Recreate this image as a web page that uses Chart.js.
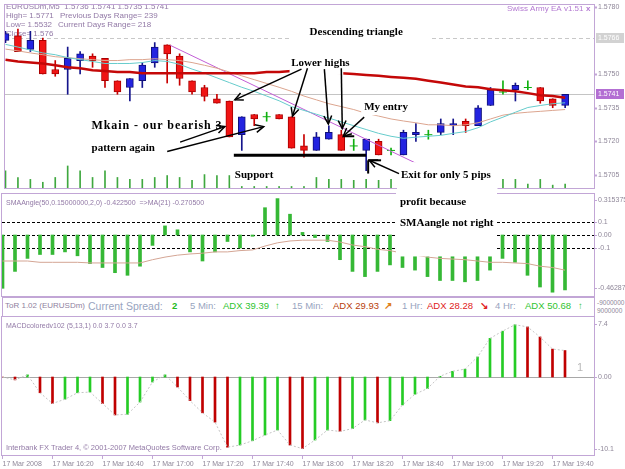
<!DOCTYPE html>
<html>
<head>
<meta charset="utf-8">
<title>EURUSDm,M5</title>
<script src="https://cdn.jsdelivr.net/npm/chart.js@4.4.0/dist/chart.umd.min.js"></script>
<style>
  body { margin: 0; background: #fff; }
  #wrap { position: relative; width: 625px; height: 469px; overflow: hidden; background: #fff; font-family: Arial, "Liberation Sans", sans-serif; }
  #wrap canvas { position: absolute; left: 0; }
  #tor { position: absolute; left: 2px; top: 297px; width: 591px; height: 18px; border: 1px solid #c2a6d6; border-bottom: none; }
  #tor span, .side { position: absolute; white-space: nowrap; line-height: 16px; top: 0; font-size: 9.5px; color: #98a4c0; }
  .side { font-size: 6.5px; line-height: 7px; color: #8f8799; left: 597px; }
</style>
</head>
<body>
<div id="wrap">
  <canvas id="main" width="625" height="193" style="top:0"></canvas>
  <canvas id="sma" width="625" height="104" style="top:193px"></canvas>
  <div id="tor">
    <span style="left:2px;font-size:8px;color:#8f7fa0">ToR 1.02 (EURUSDm)</span>
    <span style="left:85px;font-size:10.5px">Current Spread:</span>
    <span style="left:169px;color:#22bb22;font-weight:bold">2</span>
    <span style="left:187px">5 Min:</span>
    <span style="left:220px;color:#2fc42f">ADX 39.39</span>
    <span style="left:272px;color:#2fc42f;font-weight:bold">&#8593;</span>
    <span style="left:289px">15 Min:</span>
    <span style="left:330px;color:#b8400c">ADX 29.93</span>
    <span style="left:381px;color:#e08020;font-weight:bold">&#8599;</span>
    <span style="left:399px">1 Hr:</span>
    <span style="left:424px;color:#e02020">ADX 28.28</span>
    <span style="left:477px;color:#e02020;font-weight:bold">&#8600;</span>
    <span style="left:492px">4 Hr:</span>
    <span style="left:522px;color:#2fc42f">ADX 50.68</span>
    <span style="left:575px;color:#2fc42f;font-weight:bold">&#8593;</span>
  </div>
  <span class="side" style="top:299px">-9000000</span>
  <span class="side" style="top:307px">9000000</span>
  <canvas id="macd" width="625" height="154" style="top:315px"></canvas>
</div>
<script>
// time axis (bar index -> label), one bar = 5 minutes
var timeLabels = ['17 Mar 2008', '17 Mar 16:20', '17 Mar 16:40', '17 Mar 17:00', '17 Mar 17:20', '17 Mar 17:40',
  '17 Mar 18:00', '17 Mar 18:20', '17 Mar 18:40', '17 Mar 19:00', '17 Mar 19:20', '17 Mar 19:40'];
var timeLabelBars = [0, 4, 8, 12, 16, 20, 24, 28, 32, 36, 40, 44];

// EURUSDm M5 candles
var opens = [1.5765, 1.5767, 1.5761, 1.5765, 1.5752, 1.5752, 1.5756, 1.5758, 1.5757, 1.5747, 1.5744, 1.5747,
  1.5755, 1.5763, 1.5758, 1.5747, 1.5744, 1.5739, 1.5738, 1.5723, 1.5732, 1.5731, 1.5732, 1.5731,
  1.5718, 1.5716, 1.5721, 1.5723, 1.5718, 1.5716, 1.5720, 1.5716, 1.5714, 1.5723, 1.5723, 1.5724,
  1.5727, 1.5729, 1.5727, 1.5736, 1.5742, 1.5743, 1.5744, 1.5744, 1.5739, 1.5736];
var highs = [1.5769, 1.5770, 1.5769, 1.5766, 1.5756, 1.5762, 1.5760, 1.5759, 1.5757, 1.5747, 1.5748, 1.5755,
  1.5764, 1.5763, 1.5759, 1.5747, 1.5745, 1.5741, 1.5738, 1.5731, 1.5732, 1.5733, 1.5732, 1.5731,
  1.5723, 1.5724, 1.5727, 1.5725, 1.5721, 1.5721, 1.5721, 1.5717, 1.5725, 1.5728, 1.5725, 1.5730,
  1.5730, 1.5730, 1.5736, 1.5744, 1.5747, 1.5746, 1.5747, 1.5744, 1.5739, 1.5741];
var lows = [1.5764, 1.5760, 1.5760, 1.5750, 1.5749, 1.5741, 1.5750, 1.5753, 1.5744, 1.5741, 1.5738, 1.5744,
  1.5753, 1.5746, 1.5745, 1.5741, 1.5738, 1.5737, 1.5722, 1.5716, 1.5727, 1.5729, 1.5730, 1.5717,
  1.5713, 1.5716, 1.5721, 1.5716, 1.5716, 1.5707, 1.5714, 1.5714, 1.5714, 1.5720, 1.5721, 1.5723,
  1.5723, 1.5724, 1.5727, 1.5736, 1.5741, 1.5738, 1.5743, 1.5737, 1.5735, 1.5735];
var closes = [1.5768, 1.5760, 1.5765, 1.5750, 1.5750, 1.5757, 1.5759, 1.5756, 1.5747, 1.5742, 1.5748, 1.5754,
  1.5762, 1.5759, 1.5748, 1.5742, 1.5740, 1.5737, 1.5722, 1.5731, 1.5730, 1.5731, 1.5730, 1.5717,
  1.5716, 1.5722, 1.5724, 1.5716, 1.5718, 1.5721, 1.5714, 1.5716, 1.5724, 1.5724, 1.5723, 1.5728,
  1.5728, 1.5727, 1.5735, 1.5743, 1.5742, 1.5745, 1.5744, 1.5738, 1.5736, 1.5741];
var volumes = [180, 110, 90, 60, 110, 230, 180, 110, 180, 110, 90, 90, 110, 130, 110, 80, 140, 130,
  130, 150, 120, 110, 100, 120, 100, 110, 90, 90, 80, 90, 80, 90, 120, 100, 90, 90, 80, 90,
  100, 110, 90, 90, 40, 90, 30, 40];

// moving averages on price
var maSlow = [1.57564, 1.57556, 1.57551, 1.57547, 1.57539, 1.5753, 1.57526, 1.57517, 1.57513, 1.57509, 1.57509,
  1.57504, 1.57504, 1.57504, 1.57504, 1.57504, 1.57504, 1.57504, 1.57504, 1.57504, 1.57504, 1.57509, 1.57509,
  1.57513, 1.57513, 1.57513, 1.57509, 1.57504, 1.575, 1.57496, 1.57492, 1.57487, 1.57483, 1.57479, 1.5747,
  1.57462, 1.57453, 1.57445, 1.57441, 1.57432, 1.57428, 1.57423, 1.57415, 1.57406, 1.57402, 1.57394];
var maMid = [1.57611, 1.57603, 1.57594, 1.57586, 1.57577, 1.57573, 1.57568, 1.57564, 1.5756, 1.5756, 1.57564,
  1.57564, 1.57568, 1.57564, 1.5756, 1.57551, 1.57539, 1.57526, 1.57509, 1.57492, 1.57475, 1.57458, 1.57441,
  1.57423, 1.57402, 1.57385, 1.57368, 1.57355, 1.57342, 1.57325, 1.57313, 1.573, 1.57291, 1.57283, 1.57274,
  1.57274, 1.5727, 1.57274, 1.57283, 1.573, 1.57317, 1.57325, 1.5733, 1.57334, 1.57338, 1.57342];
var maFast = [1.57632, 1.5762, 1.57607, 1.57594, 1.57586, 1.57573, 1.57564, 1.57556, 1.57547, 1.57547, 1.57547,
  1.57551, 1.5756, 1.57556, 1.57543, 1.57522, 1.57504, 1.57483, 1.57462, 1.57441, 1.57423, 1.57402, 1.57381,
  1.57355, 1.57338, 1.57321, 1.57304, 1.57287, 1.5727, 1.57253, 1.57236, 1.57223, 1.57214, 1.57219, 1.57223,
  1.57227, 1.57236, 1.57244, 1.57261, 1.57287, 1.57308, 1.5733, 1.57351, 1.5736, 1.57368, 1.57372];

// drawn objects
var trendBars = [13.24, 33.16];
var trendPrices = [1.57628, 1.57099];
var bidPrice = 1.5741;
var dayHighPrice = 1.5766;
var priceTicks = [1.5780, 1.5750, 1.5735, 1.5720, 1.5705];
var priceTickLabels = ['1.5780', '1.5750', '1.5735', '1.5720', '1.5705'];

// SMAAngle window
var smaAngle = [-0.41, -0.28, -0.18, -0.15, -0.15, -0.13, -0.16, -0.22, -0.25, -0.29, -0.31, -0.24, -0.08,
  0.07, 0.04, -0.13, -0.2, -0.13, -0.05, -0.1, -0.01, 0.21, 0.28, 0.16, 0.02, -0.02, -0.05, -0.19, -0.28,
  -0.32, -0.28, -0.23, -0.25, -0.27, -0.32, -0.35, -0.35, -0.36, -0.35, -0.27, -0.18, -0.21, -0.31, -0.4,
  -0.44, -0.4225];
var smaAngleMA = [-0.2, -0.2, -0.2, -0.21, -0.21, -0.21, -0.21, -0.215, -0.215, -0.215, -0.215, -0.215, -0.19,
  -0.17, -0.155, -0.146, -0.14, -0.13, -0.13, -0.12, -0.115, -0.085, -0.06, -0.046, -0.04, -0.04, -0.04,
  -0.054, -0.077, -0.09, -0.11, -0.12, -0.14, -0.154, -0.17, -0.18, -0.185, -0.19, -0.2, -0.21, -0.21,
  -0.215, -0.22, -0.24, -0.25, -0.2705];
var smaLevels = [0.1, 0, -0.1];
var smaTicks = [0.315375, 0.1, 0, -0.1, -0.46287];
var smaTickLabels = ['0.315375', '0.1', '0.00', '-0.1', '-0.46287'];

// MACDcoloredv102 window
var macd = [0.0, -0.4, 0.3, -2.2, -3.7, -3.1, -2.2, -2.1, -3.7, -5.3, -5.2, -3.5, -0.7, 0.3, -1.4, -3.3,
  -5.0, -6.3, -9.8, -9.5, -8.9, -8.1, -7.4, -9.5, -10.0, -8.8, -7.4, -7.6, -7.2, -6.0, -6.4, -6.1, -3.9,
  -2.4, -1.6, 0.1, 0.8, 1.1, 2.8, 5.4, 6.4, 7.3, 7.0, 5.6, 3.9, 3.7];
var macdTicks = [7.4, 0, -10.1];
var macdTickLabels = ['7.4', '0.00', '-10.1'];

// hand drawn notes: [bar1, bar2, top, bottom] boxes, [bar1, val1, bar2, val2, arrowhead, width] lines,
// [text, bar, val, align, font size, letter spacing] texts
var mainNoteBoxes = [[23.0, 34.2, 1.57735, 1.57624], [22.84, 27.16, 1.57581, 1.57496], [28.6, 32.6, 1.57385, 1.57317],
  [18.1, 24.44, 1.57108, 1.57001], [31.48, 39.56, 1.57108, 1.5695]];
var mainNoteLines = [
  [23.8, 1.57522, 18.44, 1.57385, true, 1.5], [24.28, 1.57526, 23.08, 1.57313, true, 1.5],
  [25.64, 1.57522, 25.96, 1.57278, true, 1.5], [27.0, 1.57526, 27.08, 1.57257, true, 1.5],
  [28.84, 1.57308, 27.16, 1.57223, true, 1.5], [14.04, 1.57197, 17.64, 1.57266, true, 1.5],
  [13.0, 1.57155, 20.76, 1.57266, true, 1.5], [31.64, 1.57057, 29.24, 1.57116, true, 1.5],
  [18.36, 1.57138, 29.0, 1.57138, false, 3], [27.16, 1.57223, 28.04, 1.57223, false, 2],
  [29.16, 1.57116, 29.16, 1.57057, false, 2], [29.16, 1.57116, 30.2, 1.57116, false, 2]];
var mainNoteTexts = [['Descending triangle', 28.2, 1.57688, 'center', 11, 0], ['Lower highs', 25.32, 1.57547, 'center', 11, 0],
  ['My entry', 30.6, 1.57351, 'center', 11, 0], ['Mkain - our bearish 3', 6.92, 1.5727, 'left', 12, 0.9],
  ['pattern again', 6.92, 1.57172, 'left', 11, 0], ['Support', 18.44, 1.57048, 'left', 11, 0],
  ['Exit for only 5 pips', 31.8, 1.57052, 'left', 11, 0]];
var smaNoteBoxes = [[31.48, 39.56, 0.4, -0.165]];
var smaNoteTexts = [['profit because', 31.8, 0.254, 'left', 11, 0], ['SMAangle not right', 31.8, 0.092, 'left', 11, 0]];

var FRAME = '#c2a6d6';
var AXIS_TXT = '#8f8799';
var LABEL_TXT = '#9279a6';
var SMALL_FONT = '7px Arial, "Liberation Sans", sans-serif';
var NOTE_FAMILY = '"Liberation Serif", "Times New Roman", serif';
var X_MIN = -0.04, X_MAX = 47.32;

var bars = opens.map(function(v, i) { return i; });

function kind(i) {
  return closes[i] > opens[i] ? 'up' : (closes[i] < opens[i] ? 'down' : 'flat');
}

function px(chart, bar, val) {
  return { x: chart.scales.x.getPixelForValue(bar), y: chart.scales.y.getPixelForValue(val) };
}

function drawArrow(ctx, x1, y1, x2, y2, head) {
  ctx.beginPath(); ctx.moveTo(x1, y1); ctx.lineTo(x2, y2); ctx.stroke();
  if (!head) return;
  var ang = Math.atan2(y2 - y1, x2 - x1), len = 9;
  ctx.beginPath();
  ctx.moveTo(x2 - len * Math.cos(ang - 0.45), y2 - len * Math.sin(ang - 0.45));
  ctx.lineTo(x2, y2);
  ctx.lineTo(x2 - len * Math.cos(ang + 0.45), y2 - len * Math.sin(ang + 0.45));
  ctx.stroke();
}

function drawNotes(chart, ctx, boxes, lines, texts) {
  ctx.fillStyle = '#fff';
  boxes.forEach(function(b) {
    var p1 = px(chart, b[0], b[2]), p2 = px(chart, b[1], b[3]);
    ctx.fillRect(p1.x, p1.y, p2.x - p1.x, p2.y - p1.y);
  });
  ctx.strokeStyle = '#000';
  lines.forEach(function(l) {
    var p1 = px(chart, l[0], l[1]), p2 = px(chart, l[2], l[3]);
    ctx.lineWidth = l[5];
    drawArrow(ctx, p1.x, p1.y, p2.x, p2.y, l[4]);
  });
  ctx.fillStyle = '#000'; ctx.textBaseline = 'middle';
  texts.forEach(function(t) {
    var p = px(chart, t[1], t[2]);
    ctx.font = 'bold ' + t[4] + 'px ' + NOTE_FAMILY;
    ctx.letterSpacing = t[5] + 'px';
    ctx.textAlign = t[3];
    ctx.fillText(t[0], p.x, p.y);
  });
  ctx.letterSpacing = '0px';
}

function hLine(chart, ctx, val, color, dash) {
  var a = chart.chartArea, y = Math.round(chart.scales.y.getPixelForValue(val)) + 0.5;
  ctx.strokeStyle = color; ctx.lineWidth = 1; ctx.setLineDash(dash || []);
  ctx.beginPath(); ctx.moveTo(a.left, y); ctx.lineTo(a.right, y); ctx.stroke();
  ctx.setLineDash([]);
}

function priceBox(chart, ctx, val, text, bg) {
  var a = chart.chartArea, y = Math.round(chart.scales.y.getPixelForValue(val));
  ctx.fillStyle = bg; ctx.fillRect(a.right + 2, y - 5, 28, 10);
  ctx.font = SMALL_FONT; ctx.textBaseline = 'middle'; ctx.textAlign = 'left';
  ctx.fillStyle = '#fff'; ctx.fillText(text, a.right + 4, y);
}

// frame, right-hand scale labels and per-panel extras
function panelPlugin(ticks, tickLabels, padTop, padBottom, under, over) {
  return {
    id: 'panel',
    beforeDatasetsDraw: function(chart) {
      var ctx = chart.ctx;
      ctx.save();
      if (under) under(chart, ctx);
      ctx.restore();
    },
    afterDatasetsDraw: function(chart) {
      var ctx = chart.ctx, a = chart.chartArea, y = chart.scales.y;
      ctx.save();
      ctx.strokeStyle = FRAME; ctx.lineWidth = 1;
      ctx.strokeRect(Math.round(a.left) - 0.5, Math.round(a.top) - 0.5,
        Math.round(a.right - a.left) + 1, Math.round(a.bottom - a.top) + 1);
      if (over) over(chart, ctx);
      ctx.font = SMALL_FONT; ctx.textBaseline = 'middle'; ctx.textAlign = 'left';
      ticks.forEach(function(v, k) {
        var py = Math.round(Math.min(Math.max(y.getPixelForValue(v), a.top + padTop), a.bottom - padBottom));
        ctx.strokeStyle = FRAME;
        ctx.beginPath(); ctx.moveTo(a.right, py + 0.5); ctx.lineTo(a.right + 3, py + 0.5); ctx.stroke();
        ctx.fillStyle = AXIS_TXT;
        ctx.fillText(tickLabels[k], a.right + 4, py);
      });
      ctx.restore();
    }
  };
}

var baseOptions = function(padding, scales) {
  return {
    responsive: false,
    animation: false,
    events: [],
    layout: { padding: padding },
    plugins: { legend: { display: false }, tooltip: { enabled: false } },
    scales: scales
  };
};

// ---- price window ----
var last = opens.length - 1;
new Chart(document.getElementById('main'), {
  type: 'line',
  data: {
    datasets: [
      { type: 'line', data: bars.map(function(i) { return { x: i, y: maSlow[i] }; }),
        borderColor: '#c40808', borderWidth: 2.5, pointRadius: 0, order: 1 },
      { type: 'line', data: bars.map(function(i) { return { x: i, y: maFast[i] }; }),
        borderColor: '#66cccc', borderWidth: 1, pointRadius: 0, order: 2 },
      { type: 'line', data: bars.map(function(i) { return { x: i, y: maMid[i] }; }),
        borderColor: '#dca58f', borderWidth: 1, pointRadius: 0, order: 3 },
      { type: 'line', data: trendBars.map(function(b, k) { return { x: b, y: trendPrices[k] }; }),
        borderColor: '#c25ed6', borderWidth: 1, pointRadius: 0, order: 4 },
      { type: 'scatter', data: bars.filter(function(i) { return kind(i) === 'flat'; }).map(function(i) { return { x: i, y: closes[i] }; }),
        pointStyle: 'line', pointRadius: 4, borderColor: '#10b010', borderWidth: 1, order: 5 },
      { type: 'bar', grouped: false, barThickness: 7, borderWidth: 1, borderSkipped: false,
        data: bars.filter(function(i) { return kind(i) !== 'flat'; }).map(function(i) { return { x: i, y: [opens[i], closes[i]] }; }),
        backgroundColor: function(c) { return c.raw && kind(c.raw.x) === 'up' ? '#2323e0' : '#f01414'; },
        borderColor: function(c) { return c.raw && kind(c.raw.x) === 'up' ? '#10107a' : '#a80000'; },
        order: 6 },
      { type: 'bar', grouped: false, barThickness: 1,
        data: bars.map(function(i) { return { x: i, y: [lows[i], highs[i]] }; }),
        backgroundColor: function(c) {
          var k = c.raw ? kind(c.raw.x) : 'up';
          return k === 'up' ? '#14148c' : (k === 'down' ? '#c80000' : '#10b010');
        },
        order: 7 },
      { type: 'bar', grouped: false, barThickness: 1, yAxisID: 'yv',
        data: bars.map(function(i) { return { x: i, y: volumes[i] }; }),
        backgroundColor: '#3fa83f', order: 8 }
    ]
  },
  options: baseOptions({ left: 2, right: 31, top: 1, bottom: 1 }, {
    x: { type: 'linear', display: false, offset: false, min: X_MIN, max: X_MAX },
    y: { type: 'linear', display: false, min: 1.5699275, max: 1.5780725 },
    yv: { type: 'linear', display: false, min: 0, max: 1910 }
  }),
  plugins: [panelPlugin(priceTicks, priceTickLabels, 0, 0,
    function(chart, ctx) {
      ctx.font = '8px Arial, "Liberation Sans", sans-serif';
      ctx.fillStyle = LABEL_TXT; ctx.textBaseline = 'middle'; ctx.textAlign = 'left';
      ctx.fillText('EURUSDm,M5  ' + [opens[last], highs[last], lows[last], closes[last]].map(function(v) { return v.toFixed(4); }).join(' '), 6, 7);
      ctx.fillText('High= 1.5771', 6, 16);
      ctx.fillText('Previous Days Range= 239', 60, 16);
      ctx.fillText('Low= 1.5532', 6, 25);
      ctx.fillText('Current Days Range= 218', 58, 25);
      ctx.fillText('Close= 1.576', 6, 34);
      hLine(chart, ctx, dayHighPrice, '#c8c8c8', [4, 3]);
      hLine(chart, ctx, bidPrice, '#c4c4c4');
    },
    function(chart, ctx) {
      drawNotes(chart, ctx, mainNoteBoxes, mainNoteLines, mainNoteTexts);
      ctx.font = '8px Arial, "Liberation Sans", sans-serif';
      ctx.textAlign = 'left'; ctx.fillStyle = '#b47ad2';
      ctx.fillText('Swiss Army EA v1.51', 507, 9);
      ctx.font = 'bold 8px Arial, "Liberation Sans", sans-serif';
      ctx.fillText('x', 586, 9);
      priceBox(chart, ctx, dayHighPrice, '1.5766', '#d2d2d2');
      priceBox(chart, ctx, bidPrice, bidPrice.toFixed(4), '#b36fd3');
    })]
});

// ---- SMAAngle window ----
new Chart(document.getElementById('sma'), {
  type: 'bar',
  data: {
    datasets: [
      { type: 'line', data: bars.map(function(i) { return { x: i, y: smaAngleMA[i] }; }),
        borderColor: '#d4a594', borderWidth: 1, pointRadius: 0, order: 1 },
      { type: 'bar', grouped: false, barThickness: 3,
        data: bars.map(function(i) { return { x: i, y: smaAngle[i] }; }),
        backgroundColor: '#35b835', order: 2 }
    ]
  },
  options: baseOptions({ left: 2, right: 31, top: 1, bottom: 1 }, {
    x: { type: 'linear', display: false, offset: false, min: X_MIN, max: X_MAX },
    y: { type: 'linear', display: false, min: -0.4692, max: 0.315375 }
  }),
  plugins: [panelPlugin(smaTicks, smaTickLabels, 6, 8,
    function(chart, ctx) {
      smaLevels.forEach(function(v) { hLine(chart, ctx, v, '#000', [3, 2]); });
    },
    function(chart, ctx) {
      ctx.font = SMALL_FONT; ctx.fillStyle = LABEL_TXT; ctx.textBaseline = 'middle'; ctx.textAlign = 'left';
      ctx.fillText('SMAAngle(50,0.15000000,2,0) ' + smaAngle[last].toFixed(6) + '  =>MA(21) ' + smaAngleMA[last].toFixed(6), 6, 10);
      drawNotes(chart, ctx, smaNoteBoxes, [], smaNoteTexts);
    })]
});

// ---- MACD window with the time axis ----
new Chart(document.getElementById('macd'), {
  type: 'bar',
  data: {
    datasets: [
      { type: 'line', data: bars.map(function(i) { return { x: i, y: macd[i] }; }),
        borderColor: '#c4c4c4', borderWidth: 1, borderDash: [2, 2], pointRadius: 0, order: 1 },
      { type: 'bar', grouped: false, barThickness: 2,
        data: bars.map(function(i) { return { x: i, y: macd[i] }; }),
        backgroundColor: function(c) {
          var i = c.dataIndex;
          return i > 0 && macd[i] >= macd[i - 1] ? '#25cc25' : '#c00000';
        },
        order: 2 }
    ]
  },
  options: baseOptions({ left: 2, right: 31, top: 2, bottom: 0 }, {
    x: {
      type: 'linear', offset: false, min: X_MIN, max: X_MAX,
      afterBuildTicks: function(s) { s.ticks = timeLabelBars.map(function(v) { return { value: v }; }); },
      afterFit: function(s) { s.height = 14; },
      ticks: { autoSkip: false, maxRotation: 0, align: 'start', padding: 1, color: AXIS_TXT,
        font: { size: 7, family: 'Arial, "Liberation Sans", sans-serif' },
        callback: function(v, k) { return timeLabels[k]; } },
      grid: { offset: false, drawOnChartArea: false, drawTicks: true, tickLength: 4, color: FRAME },
      border: { display: false }
    },
    y: { type: 'linear', display: false, min: -10.89, max: 8.38 }
  }),
  plugins: [panelPlugin(macdTicks, macdTickLabels, 0, 0,
    function(chart, ctx) {
      hLine(chart, ctx, 0, '#a8a8a8');
    },
    function(chart, ctx) {
      ctx.font = SMALL_FONT; ctx.fillStyle = LABEL_TXT; ctx.textBaseline = 'middle'; ctx.textAlign = 'left';
      ctx.fillText('MACDcoloredv102 (5,13,1) 0.0 ' + macd[last].toFixed(1) + ' 0.0 ' + macd[last].toFixed(1), 6, 11);
      ctx.font = '7.5px Arial, "Liberation Sans", sans-serif';
      ctx.fillText('Interbank FX Trader 4, \u00a9 2001-2007 MetaQuotes Software Corp.', 6, 133);
      var p = px(chart, 45.96, 1.26);
      ctx.font = '11px Arial, "Liberation Sans", sans-serif'; ctx.fillStyle = '#b8b8b8';
      ctx.fillText('1', p.x, p.y);
    })]
});
</script>
</body>
</html>
